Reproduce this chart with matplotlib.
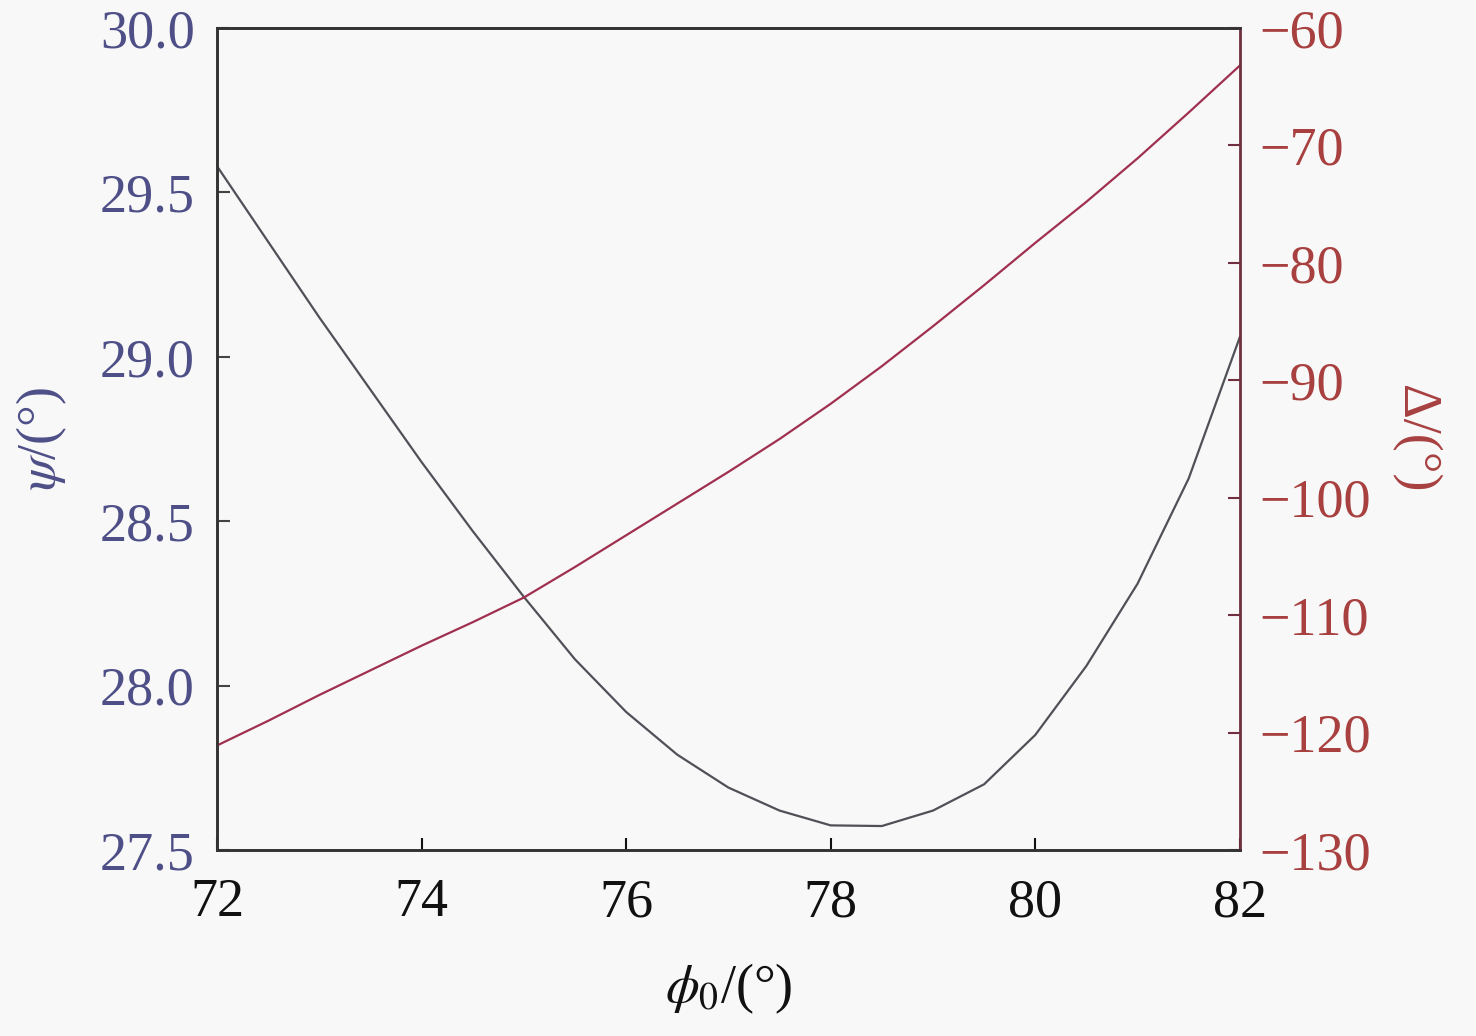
import matplotlib
matplotlib.use("Agg")
import matplotlib.pyplot as plt

# Data
phi0 = [72, 72.5, 73, 73.5, 74, 74.5, 75, 75.5, 76, 76.5, 77,
        77.5, 78, 78.5, 79, 79.5, 80, 80.5, 81, 81.5, 82]
psi = [29.58, 29.35, 29.12, 28.90, 28.68, 28.47, 28.27, 28.08, 27.92, 27.79, 27.69,
       27.62, 27.575, 27.573, 27.62, 27.70, 27.85, 28.06, 28.31, 28.63, 29.06]
delta = [-121.1, -119.0, -116.8, -114.7, -112.6, -110.6, -108.5, -105.9, -103.2, -100.5, -97.8,
         -95.0, -92.0, -88.8, -85.4, -81.9, -78.3, -74.8, -71.1, -67.2, -63.2]
x_ticks = [72, 74, 76, 78, 80, 82]
psi_ticks = [27.5, 28.0, 28.5, 29.0, 29.5, 30.0]
delta_ticks = [-130, -120, -110, -100, -90, -80, -70, -60]

plt.rcParams['font.family'] = ['Liberation Serif', 'DejaVu Serif']
plt.rcParams['mathtext.fontset'] = 'stix'
plt.rcParams['axes.unicode_minus'] = True

bg = '#f8f8f8'
psi_col = '#505058'
delta_col = '#a03050'
left_lab = '#4f4f88'
right_lab = '#a84040'

fig = plt.figure(figsize=(14.76, 10.36), dpi=100, facecolor=bg)
ax = fig.add_axes([0.147, 0.1795, 0.693, 0.7935])
ax.set_facecolor(bg)
ax2 = ax.twinx()

ax.plot(phi0, psi, color=psi_col, lw=1.6)
ax2.plot(phi0, delta, color=delta_col, lw=1.6)

ax.set_xlim(72, 82)
ax.set_ylim(27.5, 30.0)
ax2.set_ylim(-130, -60)
ax.set_xticks(x_ticks)
ax.set_yticks(psi_ticks)
ax.set_yticklabels([f"{v:.1f}" for v in psi_ticks])
ax2.set_yticks(delta_ticks)
ax2.set_yticklabels([f"\u2212{abs(v)}" for v in delta_ticks])

fs = 39
ax.tick_params(axis='x', direction='in', length=9, width=1.5, pad=20,
               labelsize=fs, colors='#111111', top=False)
ax.tick_params(axis='y', direction='in', length=9, width=1.5, pad=16,
               labelsize=fs, labelcolor=left_lab, color='#444444')
ax2.tick_params(axis='y', direction='in', length=9, width=1.5, pad=14,
                labelsize=fs, labelcolor=right_lab, color='#703040')

for a in (ax, ax2):
    for s in ['left', 'bottom', 'top']:
        a.spines[s].set_linewidth(1.9)
        a.spines[s].set_color('#333333')
ax2.spines['right'].set_linewidth(2.0)
ax2.spines['right'].set_color('#703040')

ax.set_xlabel(r'$\phi_0$/(°)', fontsize=fs, color='#111111', labelpad=24)
ax.set_ylabel(r'$\psi$/(°)', fontsize=fs, color=left_lab, labelpad=22)
ax2.set_ylabel('Δ/(°)', fontsize=fs, color=right_lab, rotation=270, labelpad=50)

fig.savefig('out.png', dpi=100, facecolor=bg)
